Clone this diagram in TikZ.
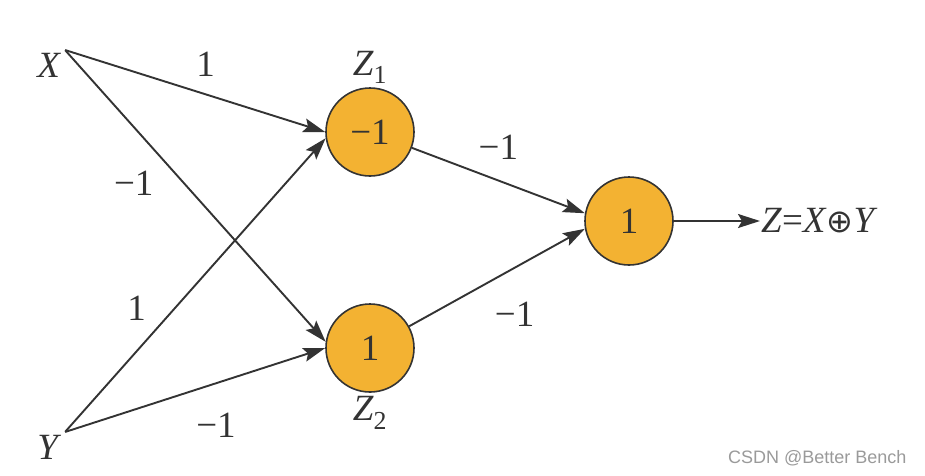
\documentclass[tikz,border=0pt]{standalone}
\usepackage{fontspec}
\setmainfont{Liberation Serif}
\newfontfamily\wmfont{Liberation Sans}
\newfontfamily\opfont{DejaVu Sans}
\usetikzlibrary{arrows.meta}
\definecolor{ink}{HTML}{333333}
\definecolor{cell}{HTML}{F3B232}
\definecolor{wmgray}{HTML}{9A9A9A}
\tikzset{
  wire/.style={draw=ink, line width=1.9pt, -{Stealth[length=22pt,width=14pt,inset=4pt]}},
  neuron/.style={circle, draw=ink, line width=1.6pt, fill=cell, minimum size=88pt, inner sep=0pt, text=ink, font=\fontsize{37}{40}\selectfont},
  inp/.style={inner sep=0pt, minimum size=0pt},
  lab/.style={text=ink, font=\fontsize{37}{40}\selectfont},
  wm/.style={text=wmgray, font=\wmfont\fontsize{18}{20}\selectfont},
}
\begin{document}
\begin{tikzpicture}[x=1pt,y=-1pt]
  \useasboundingbox (0,0) rectangle (925,475);
  \node[inp,label={[lab]185:\textit{X}}] (X) at (65,50) {};
  \node[inp,label={[lab]200:\textit{Y}}] (Y) at (65,432) {};
  \node[neuron,label={[lab]above:\textit{Z}\textsubscript{1}}] (Z1) at (370,132) {−1};
  \node[neuron,label={[lab]below:\textit{Z}\textsubscript{2}}] (Z2) at (370,348) {1};
  \node[neuron] (out) at (629,221) {1};
  \node[lab,anchor=west,inner sep=1pt] (res) at (760,221) {\textit{Z}=\textit{X}{\opfont\fontsize{32}{36}\selectfont ⊕}\textit{Y}};
  \draw[wire] (X) -- node[lab,pos=0.54,yshift=30pt] {1} (Z1.180);
  \draw[wire] (X) -- node[lab,pos=0.455,xshift=-50pt] {−1} (Z2.172);
  \draw[wire] (Y) -- node[lab,pos=0.42,xshift=-38pt] {1} (Z1.188);
  \draw[wire] (Y) -- node[lab,pos=0.58,yshift=-42pt] {−1} (Z2.180);
  \draw[wire] (Z1) -- node[lab,pos=0.5,yshift=33pt] {−1} (out.170);
  \draw[wire] (Z2) -- node[lab,pos=0.6,yshift=-47pt] {−1} (out.190);
  \draw[wire] (out.east) -- (res.west);
  \node[wm,anchor=east] (mark) at (910,458) {CSDN @Better Bench};
\end{tikzpicture}
\end{document}
